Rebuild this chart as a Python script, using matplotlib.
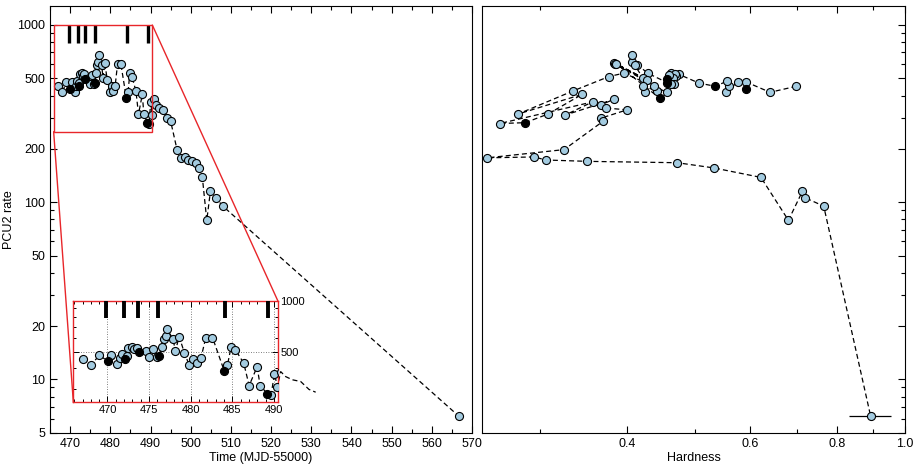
import matplotlib
matplotlib.use('Agg')
from matplotlib import pyplot as plt
from matplotlib.patches import Rectangle, ConnectionPatch
from matplotlib.ticker import LogLocator, FixedLocator, MultipleLocator, NullFormatter, FixedFormatter
import numpy as np

plt.rcParams['font.family'] = ['Liberation Sans', 'DejaVu Sans']

# light curve: time (MJD-55000), PCU2 rate, hardness, flag for black points
time = [467.05, 468.04, 469.04, 470.05, 470.44, 471.13, 471.52, 471.80, 472.12, 472.30,
        472.52, 473.00, 473.24, 473.53, 473.81, 474.65, 474.97, 475.52, 475.97, 476.17,
        476.53, 476.81, 477.05, 477.13, 477.85, 478.16, 478.61, 479.24, 479.81, 480.32,
        480.77, 481.21, 481.81, 482.61, 484.01, 484.41, 484.85, 485.37, 486.37, 487.01,
        487.97, 488.33, 489.21, 489.65, 490.05, 490.41, 490.8, 491.4, 492.2, 493.2,
        494.2, 495.0, 496.6, 497.5, 498.5, 499.3, 500.3, 501.2, 502.0, 502.9,
        504.0, 504.9, 506.2, 508.0, 566.7]
rate = [451, 417, 476, 437, 476, 421, 455, 483, 451, 470,
        528, 535, 517, 528, 494, 505, 467, 521, 467, 472,
        535, 597, 622, 678, 597, 505, 613, 490, 416, 451,
        425, 455, 605, 605, 385, 416, 535, 512, 425, 314,
        406, 314, 281, 278, 368, 310, 380, 355, 340, 332,
        298, 287, 198, 178, 180, 173, 170, 167, 156, 138,
        79, 115, 106, 95, 6.2]
hardness = [0.699, 0.641, 0.593, 0.592, 0.576, 0.555, 0.559, 0.557, 0.535, 0.507,
            0.474, 0.463, 0.470, 0.468, 0.457, 0.465, 0.467, 0.460, 0.462, 0.457,
            0.428, 0.414, 0.406, 0.406, 0.410, 0.421, 0.383, 0.427, 0.424, 0.422,
            0.442, 0.437, 0.384, 0.386, 0.446, 0.457, 0.396, 0.377, 0.335, 0.279,
            0.345, 0.308, 0.286, 0.263, 0.357, 0.326, 0.383, 0.367, 0.373, 0.400,
            0.367, 0.370, 0.325, 0.2524, 0.2946, 0.306, 0.351, 0.472, 0.533, 0.622,
            0.681, 0.713, 0.719, 0.765, 0.893]
black = [0, 0, 0, 1, 0, 0, 0, 0, 1, 0,
         0, 0, 0, 0, 1, 0, 0, 0, 0, 1,
         0, 0, 0, 0, 0, 0, 0, 0, 0, 0,
         0, 0, 0, 0, 1, 0, 0, 0, 0, 0,
         0, 0, 1, 0, 0, 0, 0, 0, 0, 0,
         0, 0, 0, 0, 0, 0, 0, 0, 0, 0,
         0, 0, 0, 0, 0]
last_hardness_err = 0.062

# times marked with thick bars at the top
event_times = [469.8, 472.0, 473.7, 476.1, 484.1, 489.3]

# zoom box
zoom_t = (465.9, 490.45)
zoom_r = (250, 1000)

t = np.array(time)
r = np.array(rate)
h = np.array(hardness)
b = np.array(black, dtype=bool)

blue = '#a3cbe0'
ln = dict(color='black', lw=0.9, ls=(0, (4, 2.5)))


def plot_series(ax, x, y, clip_line=True, ms=5.8):
    ax.plot(x, y, **ln, zorder=2, clip_on=clip_line)
    ax.plot(x[~b[:len(x)]], y[~b[:len(x)]], ls='none', marker='o', ms=ms,
            mfc=blue, mec='black', mew=0.8, zorder=3)
    ax.plot(x[b[:len(x)]], y[b[:len(x)]], ls='none', marker='o', ms=ms,
            mfc='black', mec='black', mew=0.8, zorder=4)


def log_y(ax):
    ax.set_yscale('log')
    ax.yaxis.set_major_locator(LogLocator(base=10, subs=(1, 2, 5)))
    ax.yaxis.set_minor_locator(LogLocator(base=10, subs=(3, 4, 6, 7, 8, 9)))


fig = plt.figure(figsize=(9.18, 4.69), dpi=100)
ax1 = fig.add_axes([0.0545, 0.0774, 0.4597, 0.9098])
ax2 = fig.add_axes([0.5251, 0.0774, 0.4607, 0.9098])

# ---- left: light curve
plot_series(ax1, t, r)
ax1.vlines(event_times, 790, 1000, color='black', lw=2.4, zorder=3)
log_y(ax1)
ax1.set_xlim(465, 570)
ax1.set_ylim(5, 1280)
ax1.set_yticks([5, 10, 20, 50, 100, 200, 500, 1000])
ax1.set_yticklabels(['5', '10', '20', '50', '100', '200', '500', '1000'])
ax1.yaxis.set_minor_formatter(NullFormatter())
ax1.xaxis.set_major_locator(MultipleLocator(10))
ax1.xaxis.set_minor_locator(MultipleLocator(5))
ax1.tick_params(which='both', direction='in', top=True, right=False, labelsize=9)
ax1.tick_params(which='major', length=5, width=0.8)
ax1.tick_params(which='minor', length=3, width=0.8)
ax1.set_xlabel('Time (MJD-55000)', fontsize=9, labelpad=2)
ax1.set_ylabel('PCU2 rate', fontsize=9)
ax1.yaxis.set_label_coords(-0.083, 0.5)

ax1.add_patch(Rectangle((zoom_t[0], zoom_r[0]), zoom_t[1] - zoom_t[0], zoom_r[1] - zoom_r[0],
                        fill=False, ec='#e8262a', lw=1.0, zorder=5))

# ---- inset
axin = fig.add_axes([0.0799, 0.1422, 0.2227, 0.2166])
sel = t <= 495.5
plot_series(axin, t[sel], r[sel], clip_line=False, ms=5.8)
axin.vlines(event_times, 790, 1000, color='black', lw=2.8, zorder=3)
log_y(axin)
axin.set_xlim(*zoom_t)
axin.set_ylim(*zoom_r)
axin.set_yticks([500, 1000])
axin.set_yticklabels(['500', '1000'])
axin.yaxis.set_minor_formatter(NullFormatter())
axin.xaxis.set_major_locator(MultipleLocator(5))
axin.xaxis.set_minor_locator(MultipleLocator(1))
axin.tick_params(which='both', direction='in', top=True, right=True, left=True,
                 labelleft=False, labelright=True, labelsize=8, pad=2)
axin.tick_params(which='major', length=4, width=0.7)
axin.tick_params(which='minor', length=2.2, width=0.7)
for x in [470, 475, 480, 485, 490]:
    axin.axvline(x, color='#555555', lw=0.6, ls=(0, (1, 2)), zorder=1)
axin.axhline(500, color='#555555', lw=0.6, ls=(0, (1, 2)), zorder=1)
for s in axin.spines.values():
    s.set_color('#e8262a')
    s.set_linewidth(1.0)
axin.set_zorder(6)

for xa, ya, xb, yb in [(zoom_t[0], zoom_r[0], 0, 0), (zoom_t[1], zoom_r[1], 1, 1)]:
    con = ConnectionPatch(xyA=(xa, ya), coordsA=ax1.transData,
                          xyB=(xb, yb), coordsB=axin.transAxes,
                          color='#e8262a', lw=1.0, zorder=5)
    fig.add_artist(con)

# ---- right: hardness vs rate
plot_series(ax2, h, r)
ax2.errorbar([h[-1]], [r[-1]], xerr=[last_hardness_err], fmt='none',
             ecolor='black', elinewidth=0.9, capsize=0, zorder=2)
ax2.set_xscale('log')
log_y(ax2)
ax2.set_xlim(0.248, 1.0)
ax2.set_ylim(5, 1280)
ax2.xaxis.set_major_locator(FixedLocator([0.4, 0.6, 0.8, 1.0]))
ax2.xaxis.set_major_formatter(FixedFormatter(['0.4', '0.6', '0.8', '1.0']))
ax2.xaxis.set_minor_locator(FixedLocator([0.3, 0.5, 0.7, 0.9]))
ax2.xaxis.set_minor_formatter(NullFormatter())
ax2.yaxis.set_major_formatter(NullFormatter())
ax2.yaxis.set_minor_formatter(NullFormatter())
ax2.tick_params(which='both', direction='in', top=True, left=False, right=True,
                labelleft=False, labelsize=9)
ax2.tick_params(which='major', length=5, width=0.8)
ax2.tick_params(which='minor', length=3, width=0.8)
ax2.set_xlabel('Hardness', fontsize=9, labelpad=2)

fig.savefig('out.png', dpi=100)
